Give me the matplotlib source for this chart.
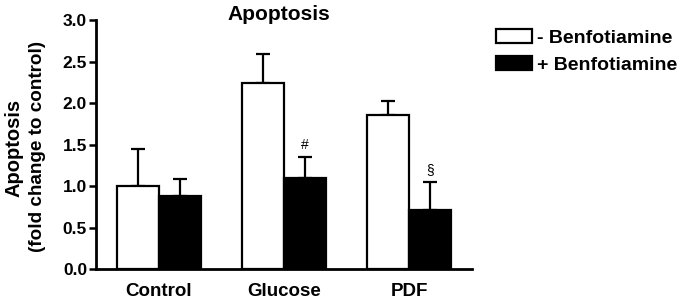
import matplotlib
matplotlib.use("Agg")
import matplotlib.pyplot as plt
import numpy as np

plt.rcParams['font.family'] = ['Liberation Sans', 'DejaVu Sans']
plt.rcParams['font.weight'] = 'bold'

categories = ["Control", "Glucose", "PDF"]
minus_vals = [1.00, 2.24, 1.86]
minus_err = [0.45, 0.35, 0.17]
plus_vals = [0.88, 1.10, 0.71]
plus_err = [0.21, 0.25, 0.34]
plus_marks = ["", "#", "§"]
series_labels = ["- Benfotiamine", "+ Benfotiamine"]
yticks = [0.0, 0.5, 1.0, 1.5, 2.0, 2.5, 3.0]

fig = plt.figure(figsize=(6.86, 3.0), dpi=100)
ax = fig.add_axes([0.140, 0.1033, 0.548, 0.830])

x = np.arange(len(categories))
w = 0.336
lw = 1.6
b1 = ax.bar(x - w/2, minus_vals, w, color="white", edgecolor="black", linewidth=lw,
            label=series_labels[0], zorder=2)
b2 = ax.bar(x + w/2, plus_vals, w, color="black", edgecolor="black", linewidth=lw,
            label=series_labels[1], zorder=2)
ax.errorbar(x - w/2, minus_vals, yerr=[np.zeros(3), minus_err], fmt="none",
            ecolor="black", elinewidth=1.6, capsize=4.8, capthick=1.6, zorder=1)
ax.errorbar(x + w/2, plus_vals, yerr=[np.zeros(3), plus_err], fmt="none",
            ecolor="black", elinewidth=1.6, capsize=4.8, capthick=1.6, zorder=1)
for xi, v, e, m in zip(x + w/2, plus_vals, plus_err, plus_marks):
    if m:
        ax.text(xi, v + e + 0.06, m, ha="center", va="bottom", fontsize=10,
                fontweight="normal")

ax.set_xlim(-0.5, 2.5)
ax.set_ylim(0, 3.0)
ax.set_yticks(yticks)
ax.set_yticklabels([f"{t:.1f}" for t in yticks], fontsize=12.5, fontweight="bold")
ax.set_xticks(x)
ax.set_xticklabels(categories, fontsize=13.5, fontweight="bold")
ax.tick_params(axis="x", length=0, pad=10)
ax.tick_params(axis="y", length=5, width=1.8, direction="out", pad=1.5)
for s in ["top", "right"]:
    ax.spines[s].set_visible(False)
for s in ["left", "bottom"]:
    ax.spines[s].set_linewidth(2.0)

fig.text(14/686, 1 - 148/300, "Apoptosis", rotation=90, ha="center", va="center",
         fontsize=14.5, fontweight="bold")
fig.text(38/686, 1 - 146/300, "(fold change to control)", rotation=90, ha="center",
         va="center", fontsize=13.6, fontweight="bold")
fig.text(279/686, 1 - 14/300, "Apoptosis", ha="center", va="center", fontsize=15,
         fontweight="bold")

fig.legend(handles=[b1, b2], loc="upper left", bbox_to_anchor=(496/686, 1 - 29/300),
           frameon=False, fontsize=14, handlelength=1.85, handleheight=0.72,
           handletextpad=0.25, labelspacing=0.48, borderaxespad=0, borderpad=0)

fig.savefig("out.png", dpi=100)
